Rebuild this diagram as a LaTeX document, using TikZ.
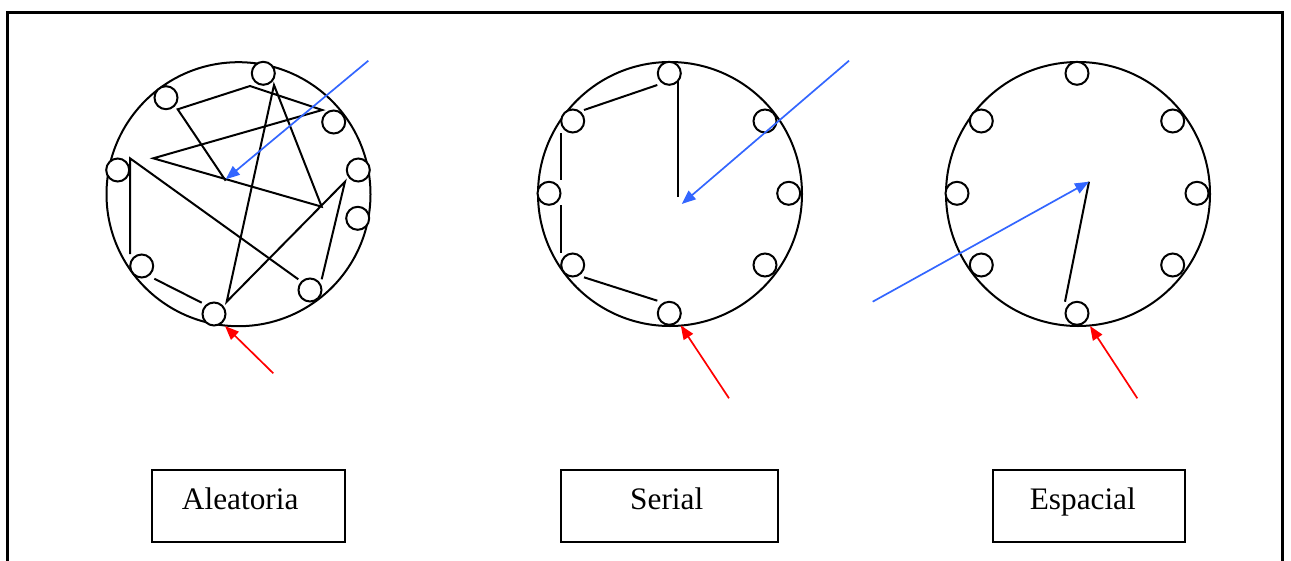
\documentclass[tikz,border=0pt]{standalone}
\usepackage{fontspec}
\setmainfont{Liberation Serif}
\usetikzlibrary{arrows.meta}

\definecolor{penblue}{HTML}{3366FF}
\definecolor{penred}{HTML}{FF0000}

\begin{document}
\begin{tikzpicture}[x=1pt, y=-1pt,
  rim/.style    = {draw, circle, line width=2pt, minimum size=264pt, inner sep=0pt},
  seat/.style   = {draw, circle, line width=2pt, fill=white, minimum size=23pt, inner sep=0pt},
  tag/.style    = {draw, line width=2pt, minimum height=72pt, inner sep=0pt,
                   text height=21pt, text depth=13.5pt,
                   font=\fontsize{31.3}{36}\selectfont},
  trail/.style  = {line width=2pt, line join=miter},
  inarr/.style  = {-{Triangle[length=14pt, width=11pt]}, line width=1.7pt, penblue},
  outarr/.style = {-{Triangle[length=14pt, width=11pt]}, line width=1.7pt, penred}
]
\useasboundingbox (0,0) rectangle (1291,560);
\draw[line width=3pt] (7,562) |- (1282,12) -- (1282,562);

% big circles
\node[rim] (r1) at (238.5,194.2) {};
\node[rim] (r2) at (670,194) {};
\node[rim] (r3) at (1078,194) {};

% Aleatoria
\draw[trail] (154.3,278.7) -- (201.7,302.7);
\draw[trail] (130,254) -- (130,158.3) -- (298.3,279.3);
\draw[trail] (321.7,279.3) -- (345,181.7) -- (226.7,301.7) -- (274,85)
  -- (321.7,206.7) -- (153.3,158.3) -- (322.3,110) -- (250,86)
  -- (177.7,109.3) -- (225.7,180.7);
\node[seat] (a1) at (263.3,73.3) {};
\node[seat] (a2) at (166,97.7) {};
\node[seat] (a3) at (333.7,122) {};
\node[seat] (a4) at (117.7,170) {};
\node[seat] (a5) at (358.3,170) {};
\node[seat] (a6) at (357.7,218.3) {};
\node[seat] (a7) at (141.7,266) {};
\node[seat] (a8) at (310,290) {};
\node[seat] (a9) at (214,314) {};
\coordinate (a-in) at (368.3,60.7);
\coordinate (a-aim) at (225.7,179.3);
\coordinate (a-out) at (273.3,373.3);
\coordinate (a-door) at (225,326);
\draw[inarr] (a-in) -- (a-aim);
\draw[outarr] (a-out) -- (a-door);
\node[tag, minimum width=193pt] (t1) at (248.7,505.5) {Aleatoria\hspace*{17pt}};

% Serial
\draw[trail] (584,110) -- (657.3,85);
\draw[trail] (560.7,133.3) -- (560.7,180);
\draw[trail] (560.7,205) -- (560.7,253.3);
\draw[trail] (584,277.3) -- (657.3,300.7);
\draw[trail] (678.3,75) -- (678.3,196.7);
\node[seat] (b1) at (669.3,73.3) {};
\node[seat] (b2) at (572.7,121) {};
\node[seat] (b3) at (765,121) {};
\node[seat] (b4) at (549,193.3) {};
\node[seat] (b5) at (788.7,193.3) {};
\node[seat] (b6) at (572.7,265) {};
\node[seat] (b7) at (765,265) {};
\node[seat] (b8) at (669.3,313.3) {};
\coordinate (b-in) at (849,60.7);
\coordinate (b-aim) at (681.7,204);
\coordinate (b-out) at (729,398.3);
\coordinate (b-door) at (680.7,325.3);
\draw[inarr] (b-in) -- (b-aim);
\draw[outarr] (b-out) -- (b-door);
\node[tag, minimum width=217pt] (t2) at (669.2,505.5) {Serial\hspace*{5pt}};

% Espacial
\node[seat] (c1) at (1077,73.3) {};
\node[seat] (c2) at (981.3,121) {};
\node[seat] (c3) at (1172.7,121) {};
\node[seat] (c4) at (957,193.3) {};
\node[seat] (c5) at (1197,193.3) {};
\node[seat] (c6) at (981.3,265) {};
\node[seat] (c7) at (1172.7,265) {};
\node[seat] (c8) at (1077,313.3) {};
\coordinate (c-aim) at (1089,181.7);
\coordinate (c-foot) at (1065,301.7);
\coordinate (c-in) at (872.7,301.7);
\coordinate (c-out) at (1137.3,398.3);
\coordinate (c-door) at (1090,326);
\draw[trail] (c-foot) -- (c-aim);
\draw[inarr] (c-in) -- (c-aim);
\draw[outarr] (c-out) -- (c-door);
\node[tag, minimum width=192pt] (t3) at (1088.8,505.5) {Espacial\hspace*{12pt}};
\end{tikzpicture}
\end{document}
